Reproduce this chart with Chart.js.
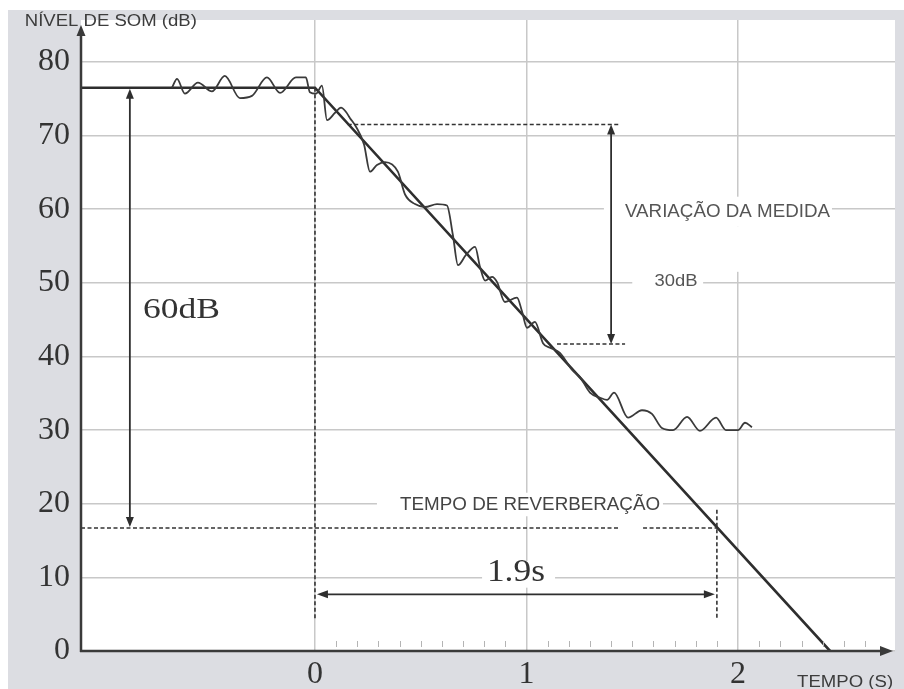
<!DOCTYPE html>
<html><head><meta charset="utf-8">
<script src="https://cdn.jsdelivr.net/npm/chart.js@4.4.1/dist/chart.umd.min.js"></script>
<style>html,body{margin:0;padding:0;background:#fff;}canvas{display:block;}</style>
</head><body>
<canvas id="c" width="904" height="689"></canvas>
<script>
// ---- data ----
const xTicks = [0, 1, 2];
const yTicks = [0, 10, 20, 30, 40, 50, 60, 70, 80];
const minorTicks = [0.1,0.2,0.3,0.4,0.5,0.6,0.7,0.8,0.9,1.1,1.2,1.3,1.4,1.5,1.6,1.7,1.8,1.9,2.1,2.2,2.3,2.4,2.5,2.6];
const xMin = -1.106, xMax = 2.742, yMin = 0, yMax = 85.7;

const idealTime  = [-1.106, 0, 2.435];
const idealLevel = [76.5, 76.5, 0];

const measTime = [-0.676,-0.652,-0.615,-0.553,-0.487,-0.426,-0.355,-0.298,-0.227,-0.165,-0.090,-0.043,-0.024,0.005,
  0.033,0.057,0.095,0.123,0.147,0.165,0.194,0.232,0.26,0.293,0.331,0.392,0.426,0.473,0.52,0.577,0.624,0.652,0.676,0.714,
  0.757,0.78,0.804,0.837,0.861,0.898,0.955,0.979,1.002,1.04,1.078,1.111,1.158,1.215,1.253,1.3,1.348,1.381,1.414,1.48,
  1.546,1.593,1.64,1.693,1.759,1.82,1.896,1.943,2.0,2.033,2.066];
const measLevel = [76.5,77.7,75.7,77.2,76.0,78.1,75.1,75.4,77.9,75.8,77.9,77.9,75.9,75.7,
  76.8,72.1,73.1,73.8,73.2,72.4,71.2,68.8,65.1,66.0,66.4,65.1,62.0,60.7,60.3,60.7,60.5,56.5,52.4,53.8,
  54.9,52.2,50.3,50.8,50.1,47.4,48.0,46.1,43.9,44.7,41.8,41.2,40.5,38.2,37.2,35.1,34.4,34.1,35.1,31.7,
  32.7,32.2,30.3,30.0,31.8,29.9,31.7,30.0,30.0,31.0,30.4];

// annotation values (data units)
const reverbLevel = 16.7, reverbTime = 1.9;
const upperLevel = 71.5, lowerLevel = 41.7;
const arrow60Time = -0.875, arrow30Time = 1.40, arrowTimeLevel = 7.7;

const LINE = '#2e2e2e';

function drawFit(ctx, text, cx, cy, font, width, color){
  ctx.save();
  ctx.font = font;
  ctx.fillStyle = color;
  ctx.textAlign = 'center';
  ctx.textBaseline = 'middle';
  const w = ctx.measureText(text).width;
  const s = width / w;
  ctx.translate(cx, cy);
  ctx.scale(s, 1);
  ctx.fillText(text, 0, 0);
  ctx.restore();
}
function head(ctx, tx, ty, dx, dy, len, half){
  const bx = tx - dx*len, by = ty - dy*len;
  ctx.beginPath();
  ctx.moveTo(tx, ty);
  ctx.lineTo(bx - dy*half, by + dx*half);
  ctx.lineTo(bx + dy*half, by - dx*half);
  ctx.closePath();
  ctx.fill();
}
function seg(ctx, x1, y1, x2, y2){
  ctx.beginPath(); ctx.moveTo(x1, y1); ctx.lineTo(x2, y2); ctx.stroke();
}

const deco = {
  id: 'deco',
  beforeDraw(chart){
    const {ctx, chartArea:a} = chart;
    ctx.save();
    ctx.fillStyle = '#ffffff'; ctx.fillRect(0,0,chart.width,chart.height);
    ctx.fillStyle = '#dcdde2'; ctx.fillRect(8,10,chart.width-8,chart.height-10);
    ctx.fillStyle = '#ffffff'; ctx.fillRect(a.left,a.top,a.right-a.left,a.bottom-a.top);
    ctx.restore();
  },
  beforeDatasetsDraw(chart){
    const {ctx} = chart; const X = v=>chart.scales.x.getPixelForValue(v), Y = v=>chart.scales.y.getPixelForValue(v);
    const boxes = [[0.293,1.645,18.3,21.5],[0.79,1.135,8.6,12.2],[1.366,2.444,57.7,61.7],[1.5,2.02,51.5,57.7],[1.5,1.835,48.6,51.5]];
    ctx.save(); ctx.fillStyle = '#ffffff';
    boxes.forEach(b=>ctx.fillRect(X(b[0]), Y(b[3]), X(b[1])-X(b[0]), Y(b[2])-Y(b[3])));
    ctx.restore();
  },
  afterDatasetsDraw(chart){
    const {ctx, chartArea:a} = chart;
    const X = v=>chart.scales.x.getPixelForValue(v), Y = v=>chart.scales.y.getPixelForValue(v);
    ctx.save();
    // minor ticks
    ctx.strokeStyle = '#b4b4b4'; ctx.lineWidth = 1;
    minorTicks.forEach(v=>seg(ctx, Math.round(X(v))+0.5, a.bottom-10, Math.round(X(v))+0.5, a.bottom-4));
    // dashed lines
    ctx.strokeStyle = '#333'; ctx.lineWidth = 1.6; ctx.setLineDash([4,2.5]);
    seg(ctx, X(xMin), Y(reverbLevel), X(1.442), Y(reverbLevel));
    seg(ctx, X(1.551), Y(reverbLevel), X(reverbTime), Y(reverbLevel));
    seg(ctx, X(0.155), Y(upperLevel), X(1.442), Y(upperLevel));
    seg(ctx, X(1.144), Y(lowerLevel), X(1.466), Y(lowerLevel));
    seg(ctx, X(0), Y(76.5), X(0), Y(4.2));
    seg(ctx, X(reverbTime), Y(19.2), X(reverbTime), Y(4.5));
    ctx.setLineDash([]);
    // arrows
    ctx.strokeStyle = LINE; ctx.fillStyle = LINE; ctx.lineWidth = 1.8;
    let x60 = X(arrow60Time);
    seg(ctx, x60, Y(76.5)+4, x60, Y(reverbLevel)-4);
    head(ctx, x60, Y(76.5)+1, 0, -1, 10, 4);
    head(ctx, x60, Y(reverbLevel)-1, 0, 1, 10, 4);
    let x30 = X(arrow30Time);
    seg(ctx, x30, Y(upperLevel)+4, x30, Y(lowerLevel)-4);
    head(ctx, x30, Y(upperLevel), 0, -1, 10, 4);
    head(ctx, x30, Y(lowerLevel), 0, 1, 10, 4);
    let yt = Y(arrowTimeLevel);
    seg(ctx, X(0)+6, yt, X(reverbTime)-6, yt);
    head(ctx, X(0)+2, yt, -1, 0, 11, 4);
    head(ctx, X(reverbTime)-2, yt, 1, 0, 11, 4);
    // axes
    ctx.strokeStyle = '#3a3a3a'; ctx.fillStyle = '#3a3a3a'; ctx.lineWidth = 2.5;
    seg(ctx, a.left, a.bottom+1, a.left, a.top+12);
    head(ctx, a.left, a.top+5, 0, -1, 11, 4.5);
    seg(ctx, a.left-1, a.bottom, a.right-10, a.bottom);
    head(ctx, a.right-2, a.bottom, 1, 0, 13, 5);
    // texts
    const sans = 'Liberation Sans, Arial, sans-serif', serif = 'Liberation Serif, Times New Roman, serif';
    drawFit(ctx, 'NÍVEL DE SOM (dB)', X(-0.965), Y(85.46), '16px '+sans, 172, '#3c3c3c');
    drawFit(ctx, 'TEMPO (S)', X(2.506), Y(-4.35), '16px '+sans, 96, '#3c3c3c');
    drawFit(ctx, 'TEMPO DE REVERBERAÇÃO', X(1.017), Y(19.84), '18px '+sans, 260, '#444');
    drawFit(ctx, 'VARIAÇÃO DA MEDIDA', X(1.95), Y(59.65), '18px '+sans, 205, '#555');
    drawFit(ctx, '30dB', X(1.707), Y(50.27), '17px '+sans, 43, '#555');
    drawFit(ctx, '60dB', X(-0.631), Y(46.26), '30px '+serif, 77, '#333');
    drawFit(ctx, '1.9s', X(0.950), Y(10.6), '32px '+serif, 58, '#333');
    ctx.restore();
  }
};

const chart = new Chart(document.getElementById('c'), {
  type: 'line',
  data: {
    datasets: [
      { label: 'Medido', data: measTime.map((t,i)=>({x:t, y:measLevel[i]})),
        borderColor: '#3a3a3a', borderWidth: 1.8, pointRadius: 0, cubicInterpolationMode: 'monotone', fill: false },
      { label: 'Ideal', data: idealTime.map((t,i)=>({x:t, y:idealLevel[i]})),
        borderColor: LINE, borderWidth: 2.6, pointRadius: 0, tension: 0, fill: false }
    ]
  },
  options: {
    responsive: false, animation: false, devicePixelRatio: 1,
    layout: { padding: { top: 20, right: 9, left: 0, bottom: 0 } },
    plugins: { legend: { display: false }, tooltip: { enabled: false } },
    scales: {
      x: {
        type: 'linear', min: xMin, max: xMax,
        afterBuildTicks: s => { s.ticks = xTicks.map(v=>({value:v})); },
        afterFit: s => { s.height = 38; s.paddingLeft = 0; s.paddingRight = 0; },
        grid: { color: '#c8c8c8', lineWidth: 1.5, drawTicks: false },
        border: { display: false },
        ticks: { font: { family: 'Liberation Serif', size: 32 }, color: '#333', padding: 4, autoSkip: false, maxRotation: 0 }
      },
      y: {
        type: 'linear', min: yMin, max: yMax,
        afterBuildTicks: s => { s.ticks = yTicks.map(v=>({value:v})); },
        afterFit: s => { s.width = 81; s.paddingTop = 0; s.paddingBottom = 0; },
        grid: { color: '#c8c8c8', lineWidth: 1.5, drawTicks: false },
        border: { display: false },
        ticks: { font: { family: 'Liberation Serif', size: 32 }, color: '#333', padding: 11 }
      }
    }
  },
  plugins: [deco]
});
</script>
</body></html>
